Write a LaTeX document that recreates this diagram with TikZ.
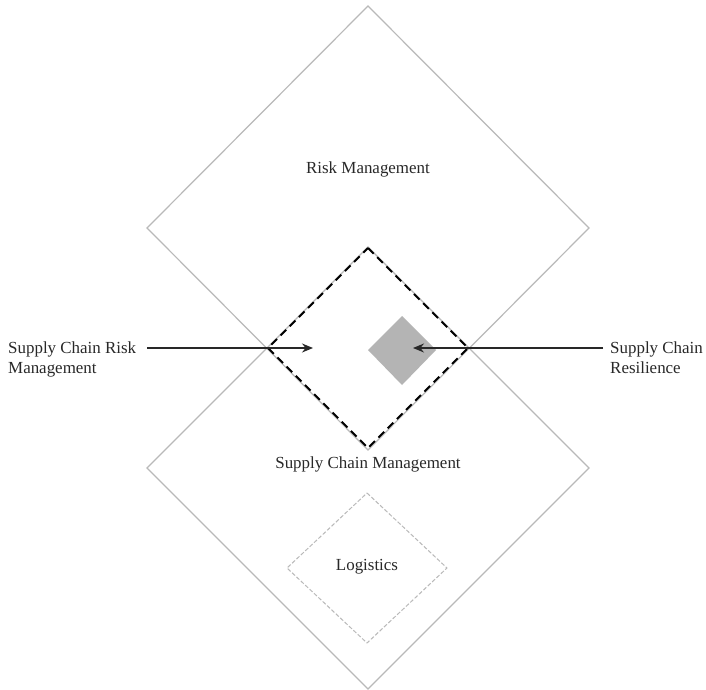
\documentclass[tikz,border=0pt]{standalone}
\usepackage{fontspec}
\setmainfont{Liberation Serif}
\usetikzlibrary{arrows.meta}
\definecolor{edgegray}{RGB}{185,185,185}
\definecolor{fillgray}{RGB}{180,180,180}
\definecolor{inkdark}{RGB}{40,40,40}
\tikzset{
  areaedge/.style={draw=edgegray, line width=1.2bp, line join=miter},
  overlapedge/.style={draw=black, line width=2bp, dash pattern=on 8bp off 5bp},
  logisticsedge/.style={draw=edgegray, line width=1bp, dash pattern=on 4bp off 2bp},
  coreshape/.style={fill=fillgray, draw=none},
  pointer/.style={draw=inkdark, line width=1.4bp, -{Stealth[length=11bp, width=9bp]}},
  label/.style={text=inkdark, font=\fontsize{17}{20}\selectfont, inner sep=0pt},
}
\begin{document}
\begin{tikzpicture}[x=1bp, y=-1bp]
  % canvas
  \path[fill=white] (0,0) rectangle (706,690);
  \useasboundingbox (0,0) rectangle (706,690);

  % large domain diamonds
  \path[areaedge] (368,6) coordinate (rmT) -- (589,228) coordinate (rmR)
        -- (368,450) coordinate (rmB) -- (147,228) coordinate (rmL) -- cycle;
  \path[areaedge] (368,247) coordinate (scT) -- (589,468) coordinate (scR)
        -- (368,689) coordinate (scB) -- (147,468) coordinate (scL) -- cycle;

  % overlap of the two domains
  \path[overlapedge] (368,248) coordinate (ovT) -- (468,348) coordinate (ovR)
        -- (368,448) coordinate (ovB) -- (268,348) coordinate (ovL) -- cycle;

  % resilience core
  \path[coreshape] (402,316) -- (436,350) -- (402,385) -- (368,350) -- cycle;

  % logistics
  \path[logisticsedge] (367,493) -- (447,568) -- (367,643) -- (287,568) -- cycle;

  % area names
  \node[label, anchor=base] (rm) at (368,173) {Risk Management};
  \node[label, anchor=base] (scm) at (368,468) {Supply Chain Management};
  \node[label, anchor=base] (log) at (367,570) {Logistics};

  % side captions
  \node[label, anchor=base west] (scrm1) at (8,353) {Supply Chain Risk};
  \node[label, anchor=base west] (scrm2) at (8,373) {Management};
  \node[label, anchor=base west] (scr1) at (610,353) {Supply Chain};
  \node[label, anchor=base west] (scr2) at (610,373) {Resilience};

  % pointers
  \coordinate (lstart) at (147,348);
  \coordinate (lend) at (313,348);
  \coordinate (rstart) at (603,348);
  \coordinate (rend) at (413,348);
  \draw[pointer] (lstart) -- (lend);
  \draw[pointer] (rstart) -- (rend);
\end{tikzpicture}
\end{document}
